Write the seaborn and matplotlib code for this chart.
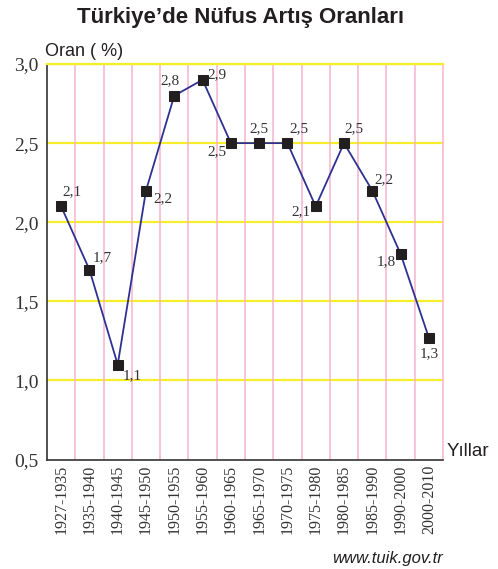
import matplotlib
matplotlib.use("Agg")
import matplotlib.pyplot as plt
import seaborn as sns
from matplotlib.ticker import FixedLocator

# Data
periods = ["1927-1935", "1935-1940", "1940-1945", "1945-1950", "1950-1955",
           "1955-1960", "1960-1965", "1965-1970", "1970-1975", "1975-1980",
           "1980-1985", "1985-1990", "1990-2000", "2000-2010"]
rates = [2.1, 1.7, 1.1, 2.2, 2.8, 2.9, 2.5, 2.5, 2.5, 2.1, 2.5, 2.2, 1.8, 1.27]
rate_labels = ["2,1", "1,7", "1,1", "2,2", "2,8", "2,9", "2,5",
               "2,5", "2,5", "2,1", "2,5", "2,2", "1,8", "1,3"]
y_ticks = [0.5, 1.0, 1.5, 2.0, 2.5, 3.0]
y_tick_labels = ["0,5", "1,0", "1,5", "2,0", "2,5", "3,0"]

# label placement per point: (dx px, dy px, ha, va)
label_pos = [(1, 8, "left", "bottom"), (3, 5, "left", "bottom"),
             (5, -5, "left", "top"), (7, -2, "left", "top"),
             (5, 8, "right", "bottom"), (5, 5, "left", "center"),
             (-4, -2, "right", "top"), (0, 8, "center", "bottom"),
             (2, 8, "left", "bottom"), (-5, 1, "right", "top"),
             (0, 8, "left", "bottom"), (2, 4, "left", "bottom"),
             (-5, -1, "right", "top"), (0, -10, "center", "top")]

sns.set_style("white")
plt.rcParams["font.family"] = ["Liberation Sans", "DejaVu Sans"]

LINE_COLOR = "#2e3192"
YELLOW = "#f6ee2a"
PINK = "#f5b3cf"
SERIF = "Liberation Serif"

fig = plt.figure(figsize=(4.98, 5.69), dpi=100)
ax = fig.add_axes([47 / 498, 1 - 459.5 / 569, 396 / 498, 395.5 / 569])

xpos = list(range(len(periods)))
ax.set_xlim(-0.5, len(periods) - 0.5)
ax.set_ylim(0.5, 3.0)

# grid: yellow horizontals, pink verticals at period boundaries
for yv in y_ticks[1:]:
    ax.axhline(yv, color=YELLOW, lw=1.6, zorder=1)
for b in range(len(periods) - 1):
    ax.axvline(b + 0.5, color=PINK, lw=1.1, zorder=1)

sns.lineplot(x=xpos, y=rates, ax=ax, color=LINE_COLOR, lw=1.3,
             marker="s", markersize=7.5, markerfacecolor="#231f20",
             markeredgecolor="#231f20", zorder=3)

for i, (v, lab) in enumerate(zip(rates, rate_labels)):
    dx, dy, ha, va = label_pos[i]
    ax.annotate(lab, (i, v), xytext=(dx, dy), textcoords="offset pixels",
                ha=ha, va=va, fontsize=11, family=SERIF, color="#333333",
                zorder=4)

# axes styling
for s in ["left", "bottom"]:
    ax.spines[s].set_color("#333333")
    ax.spines[s].set_linewidth(1.2)
ax.spines["top"].set_color(YELLOW)
ax.spines["top"].set_linewidth(1.6)
ax.spines["right"].set_color(PINK)
ax.spines["right"].set_linewidth(1.1)

ax.set_yticks(y_ticks)
ax.set_yticklabels(y_tick_labels, family=SERIF, fontsize=14, color="#333333")
ax.tick_params(axis="y", direction="in", length=7, width=1.2,
               color="#444444", pad=6)

ax.set_xticks(xpos)
ax.set_xticklabels(periods, rotation=90, family=SERIF, fontsize=11.5,
                   color="#333333")
ax.tick_params(axis="x", which="major", length=0, pad=4)
ax.xaxis.set_minor_locator(FixedLocator([b + 0.5 for b in range(len(periods) - 1)]))
ax.tick_params(axis="x", which="minor", direction="in", length=7.5,
               width=1.2, color="#444444")

ax.set_xlabel("")
ax.set_ylabel("")

fig.text(240 / 498, 1 - 18 / 569, "Türkiye’de Nüfus Artış Oranları",
         ha="center", va="center", fontsize=16, fontweight="bold",
         color="#231f20")
fig.text(45 / 498, 1 - 51 / 569, "Oran ( %)", ha="left", va="center",
         fontsize=13, color="#231f20")
fig.text(447 / 498, 1 - 452 / 569, "Yıllar", ha="left", va="center",
         fontsize=13.5, color="#231f20")
fig.text(443 / 498, 1 - 558 / 569, "www.tuik.gov.tr", ha="right",
         va="center", fontsize=12, style="italic", color="#231f20")

fig.savefig("out.png", dpi=100)
